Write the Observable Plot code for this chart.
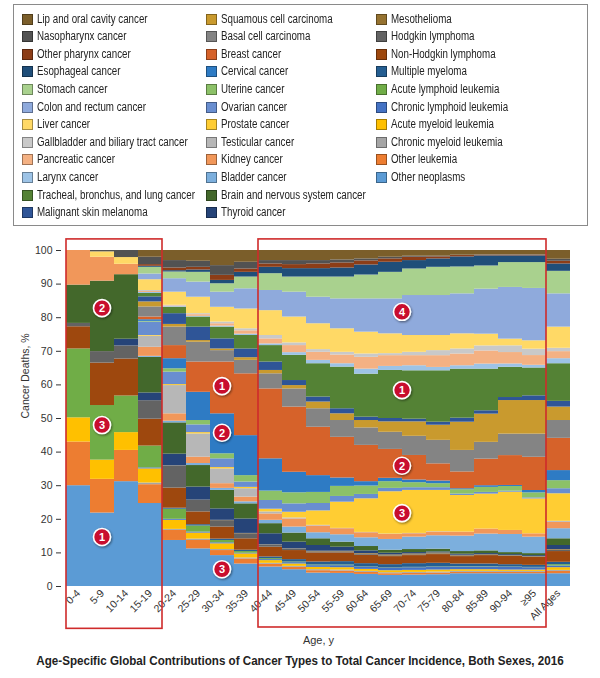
<!DOCTYPE html>
<html><head><meta charset="utf-8">
<script src="https://cdn.jsdelivr.net/npm/d3@7"></script>
<script src="https://cdn.jsdelivr.net/npm/@observablehq/plot@0.6"></script>
<style>
body{margin:0;background:#fff;font-family:"Liberation Sans",Arial,sans-serif;}
#wrap{position:relative;width:600px;height:678px;overflow:hidden}
#legend{position:absolute;left:13px;top:4px;width:575px;height:222px;border:1px solid #8a8a8a;box-sizing:border-box;}
.item{position:absolute;font-size:12.5px;color:#222;line-height:13px;display:flex;align-items:center;white-space:nowrap}
.sw{width:11px;height:11px;box-sizing:border-box;border:1px solid rgba(0,0,0,.35);margin-right:4px;flex:none}
.lt{display:inline-block;transform:scaleX(0.78);transform-origin:left center}
#chart{position:absolute;left:0;top:230px}
#title{position:absolute;top:653px;left:300px;white-space:nowrap;font-size:13.5px;font-weight:bold;color:#222;transform:translateX(-50%) scaleX(0.86);transform-origin:center}
</style></head>
<body><div id="wrap"><div id="legend"></div><div id="chart"></div>
<div id="title">Age-Specific Global Contributions of Cancer Types to Total Cancer Incidence, Both Sexes, 2016</div></div>
<script>
const ages = ["0-4","5-9","10-14","15-19","20-24","25-29","30-34","35-39","40-44","45-49","50-54","55-59","60-64","65-69","70-74","75-79","80-84","85-89","90-94","≥95","All Ages"];

// legend order (top of stack first)
const seriesNames = ["Lip and oral cavity cancer","Nasopharynx cancer","Other pharynx cancer","Esophageal cancer","Stomach cancer","Colon and rectum cancer","Liver cancer","Gallbladder and biliary tract cancer","Pancreatic cancer","Larynx cancer","Tracheal, bronchus, and lung cancer","Malignant skin melanoma","Squamous cell carcinoma","Basal cell carcinoma","Breast cancer","Cervical cancer","Uterine cancer","Ovarian cancer","Prostate cancer","Testicular cancer","Kidney cancer","Bladder cancer","Brain and nervous system cancer","Thyroid cancer","Mesothelioma","Hodgkin lymphoma","Non-Hodgkin lymphoma","Multiple myeloma","Acute lymphoid leukemia","Chronic lymphoid leukemia","Acute myeloid leukemia","Chronic myeloid leukemia","Other leukemia","Other neoplasms"];
const seriesColors = ["#7b5e2a","#525252","#8c3d17","#1f4e79","#a9d18e","#8faadc","#ffd966","#c9c9c9","#f4b183","#9dc3e6","#548235","#2f5597","#c99a2e","#848484","#d6622a","#2e7bc4","#8cc168","#698ed0","#ffcd33","#b7b7b7","#f1975a","#7cafdd","#43682b","#264478","#957230","#636363","#9e480e","#255e91","#70ad47","#4472c4","#ffc000","#a5a5a5","#ed7d31","#5b9bd5"];

// shares (%) per age group
const lipOral      = [0,0,0,2.0,3.0,3.2,4.5,3.5,3.0,3.0,3.0,2.8,2.5,2.0,1.7,1.7,1.4,1.3,1.3,1.3,2.6];
const nasopharynx  = [0,0.4,2.1,2.2,2.2,1.8,2.9,2.0,1.0,1.2,1.0,0.9,0.6,0.5,0.3,0.2,0.1,0.1,0.1,0.1,0.6];
const otherPharynx = [0,0,0,0.5,0.8,0.8,1.5,1.0,1.0,1.2,1.4,1.5,1.2,1.0,1.0,0.6,0.4,0.2,0.2,0.2,0.8];
const esophageal   = [0,0,0,0.3,0.4,0.7,1.0,1.4,1.9,2.5,2.5,2.7,3.0,3.0,2.5,2.5,3.0,3.0,2.0,2.0,2.2];
const stomach      = [0,0,0,2.0,2.0,2.9,2.5,3.5,5.0,4.5,6.0,6.5,7.1,7.9,7.9,8.4,8.0,6.9,7.4,7.7,6.7];
const colonRectum  = [0,0,0,1.7,4.0,4.5,4.5,6.0,6.0,7.4,7.9,8.9,9.9,10.4,11.9,11.9,11.9,13.4,15.4,15.6,9.9];
const liver        = [0,1.6,2.0,3.2,3.9,4.9,4.4,5.9,7.4,7.7,7.7,7.0,6.5,5.9,5.0,4.5,4.5,3.5,2.0,2.5,6.3];
const gallbladder  = [0,0,0,0.3,0.2,0.3,0.5,0.6,1.0,0.8,0.8,0.8,1.0,0.6,1.0,1.5,1.5,1.5,2.0,1.9,1.0];
const pancreatic   = [0,0,0,0.3,0.2,0.5,0.7,1.0,1.5,2.1,2.4,2.6,3.5,3.2,3.0,3.5,3.5,3.9,3.4,2.9,2.1];
const larynx       = [0,0,0,0.3,0.2,0.2,0.3,0.4,0.5,0.8,1.0,1.0,1.5,1.2,1.5,1.0,1.0,1.5,1.0,0.8,1.5];
const lung         = [0,0,0,1.0,1.9,3.0,3.5,4.0,4.9,7.5,9.9,12.4,12.8,14.3,14.4,15.3,14.6,12.4,9.0,8.3,11.2];
const melanoma     = [0,0,0,1.5,3.2,4.0,3.0,2.6,2.5,1.5,1.5,1.5,1.0,1.0,0.8,0.9,1.2,1.0,0.9,1.4,1.7];
const squamous     = [0,0,0,1.5,0.8,0.5,0.5,0.8,1.0,1.0,2.0,2.0,2.2,3.1,4.3,4.5,8.4,8.4,10.0,10.0,4.0];
const basal        = [0,0,0,3.0,5.5,5.9,3.4,4.0,4.5,5.4,5.5,5.0,5.2,5.1,5.7,7.0,6.4,5.0,6.4,6.9,5.3];
const breast       = [0,0,0,0.8,3.9,9.0,15.4,18.4,20.8,19.4,14.4,12.1,10.8,8.6,7.3,5.1,5.0,7.9,8.9,9.9,9.6];
const cervical     = [0,0,0,0.5,3.0,8.4,11.9,11.9,9.6,6.1,5.0,2.5,1.3,1.0,0.8,0.8,0.3,0.5,0.3,0.7,3.0];
const uterine      = [0,0,0,0.2,1.0,1.3,1.5,1.9,2.8,3.3,3.3,3.0,2.5,2.0,1.5,1.2,1.3,1.5,1.4,1.5,2.4];
const ovarian      = [0,0,0,4.0,3.7,2.3,2.6,1.6,2.6,2.5,2.2,1.7,1.3,1.0,0.8,0.8,0.4,0.5,0.3,0.3,1.5];
const prostate     = [0,0,0,0.2,0.3,0.4,0.4,0.4,0.8,1.7,4.3,7.8,10.0,12.6,12.8,12.3,10.9,10.4,11.4,10.4,8.2];
const testicular   = [0,0,0,3.3,8.4,6.9,4.4,2.5,0.6,0.3,0.2,0.1,0.1,0.1,0.1,0.1,0,0,0,0,0.3];
const kidney       = [10.3,7.1,3.1,2.7,2.2,1.9,1.4,1.4,1.9,2.4,2.0,1.8,1.5,1.5,1.0,1.1,1.2,1.5,1.2,1.0,1.9];
const bladder      = [0,0,0,0.3,0.5,0.6,0.6,0.6,1.0,1.8,1.8,2.2,2.6,3.2,3.7,4.0,4.6,5.0,5.4,4.9,3.0];
const brain        = [11.4,20.9,19.2,10.6,9.3,6.4,5.5,4.5,3.0,2.7,2.0,1.5,1.3,0.9,0.9,0.8,0.8,0.8,0.6,0.6,2.0];
const thyroid      = [0,0,2.0,2.3,3.5,3.9,3.4,4.3,3.3,2.0,1.7,1.2,0.8,0.5,0.4,0.3,0.3,0.3,0.3,0.3,1.2];
const mesothelioma = [0,0,0,0,0.1,0.1,0.1,0.1,0.1,0.1,0.2,0.2,0.2,0.3,0.3,0.3,0.2,0.1,0.1,0.1,0.2];
const hodgkin      = [1.0,3.4,3.9,5.5,6.5,3.4,1.9,1.5,0.6,0.4,0.3,0.3,0.3,0.2,0.2,0.2,0.2,0.2,0.1,0.1,0.4];
const nonHodgkin   = [6.6,12.6,11.0,8.0,6.0,3.8,3.6,3.4,2.9,2.7,2.7,2.6,2.5,2.4,2.4,2.6,2.2,2.5,2.5,2.4,3.2];
const myeloma      = [0,0,0,0,0.3,0.4,0.4,0.4,0.5,0.7,0.9,1.0,1.0,1.0,1.1,1.1,0.8,0.8,0.7,0.6,0.7];
const acuteLymph   = [20.5,16.2,10.9,6.5,3.0,1.8,0.7,0.5,0.3,0.2,0.2,0.2,0.1,0.1,0.1,0.1,0.1,0.1,0.1,0.1,0.4];
const chronicLymph = [0,0,0,0.3,0.3,0.3,0.3,0.2,0.3,0.4,0.5,0.6,0.6,0.7,0.8,0.8,0.8,0.8,0.8,0.7,0.5];
const acuteMyeloid = [7.2,5.7,5.3,4.2,2.7,1.8,1.7,1.2,0.8,0.7,0.7,0.7,0.6,0.6,0.6,0.6,0.5,0.5,0.4,0.4,0.8];
const chronicMyel  = [0,0,0,0.5,0.3,0.4,0.3,0.3,0.3,0.3,0.3,0.3,0.3,0.3,0.3,0.3,0.3,0.3,0.3,0.3,0.3];
const otherLeuk    = [13,10,9.3,5.6,3.0,2.5,1.5,1.5,0.8,0.7,0.7,0.7,0.6,0.5,0.5,0.5,0.4,0.4,0.4,0.4,0.7];
const otherNeo     = [30,21.8,31.2,24.7,13.7,11.2,9.2,6.7,5.8,5.0,4.0,3.9,3.6,3.3,3.4,3.5,3.8,3.8,3.8,3.8,3.8];

const seriesValues = [lipOral,nasopharynx,otherPharynx,esophageal,stomach,colonRectum,liver,gallbladder,pancreatic,larynx,lung,melanoma,squamous,basal,breast,cervical,uterine,ovarian,prostate,testicular,kidney,bladder,brain,thyroid,mesothelioma,hodgkin,nonHodgkin,myeloma,acuteLymph,chronicLymph,acuteMyeloid,chronicMyel,otherLeuk,otherNeo];

const yTicks = [0,10,20,30,40,50,60,70,80,90,100];

// annotations
const boxes = [{from:"0-4", to:"15-19", top:103.3, bottom:-12.6},{from:"40-44", to:"≥95", top:103.3, bottom:-12.2}];
const markers = [
  {n:"2", age:"5-9", at:0.5, y:82.7},{n:"3", age:"5-9", at:0.5, y:47.9},{n:"1", age:"5-9", at:0.5, y:14.6},
  {n:"1", age:"30-34", at:0.5, y:59.5},{n:"2", age:"30-34", at:0.5, y:45.6},{n:"3", age:"30-34", at:0.5, y:5.0},
  {n:"4", age:"65-69", at:1, y:81.6},{n:"1", age:"65-69", at:1, y:58.3},{n:"2", age:"65-69", at:1, y:35.8},{n:"3", age:"65-69", at:1, y:21.7}
];

// legend
const leg = document.getElementById("legend");
const colX = [8, 192, 362];
seriesNames.forEach((name, i) => {
  const col = Math.floor(i / 12), row = i % 12;
  const d = document.createElement("div");
  d.className = "item";
  d.style.left = colX[col] + "px";
  d.style.top = (7.5 + row * 17.6) + "px";
  d.innerHTML = `<span class="sw" style="background:${seriesColors[i]}"></span><span class="lt">${name}</span>`;
  leg.appendChild(d);
});

// long-format data, bottom of stack first
const rows = [];
for (let s = seriesNames.length - 1; s >= 0; s--) {
  ages.forEach((a, j) => rows.push({age: a, series: seriesNames[s], value: seriesValues[s][j]}));
}

const chart = Plot.plot({
  width: 600, height: 422,
  marginTop: 20, marginBottom: 66, marginLeft: 61, marginRight: 25,
  style: {fontFamily: '"Liberation Sans",Arial,sans-serif', fontSize: "10.5px", color: "#333", background: "transparent"},
  x: {domain: ages, padding: 0, label: null, tickRotate: -45, tickSize: 0, tickPadding: 5},
  y: {domain: [0, 1], ticks: yTicks.map(v => v / 100), tickFormat: v => String(Math.round(v * 100)), label: null, tickSize: 5},
  color: {domain: seriesNames, range: seriesColors},
  marks: [
    Plot.barY(rows, Plot.stackY({offset: "normalize", order: null}, {x: "age", y: "value", fill: "series", inset: 0})),
    Plot.text(["Cancer Deaths, %"], {text: d => d, frameAnchor: "left", rotate: -90, dx: -36, fontSize: 10.5, fill: "#333"}),
    Plot.text(["Age, y"], {text: d => d, frameAnchor: "bottom", dy: 57, fontSize: 11, fill: "#333"})
  ]
});
document.getElementById("chart").appendChild(chart);

// annotations drawn with the plot's own scales
const xs = chart.scale("x"), ys = chart.scale("y");
const bw = xs.bandwidth;
const svg = d3.select(chart);
const defs = svg.append("defs");
const f = defs.append("filter").attr("id","sh").attr("x","-50%").attr("y","-50%").attr("width","200%").attr("height","200%");
f.append("feDropShadow").attr("dx",1).attr("dy",1.2).attr("stdDeviation",1).attr("flood-color","#000").attr("flood-opacity",0.45);
const g = svg.append("g");
boxes.forEach(b => {
  const x0 = xs.apply(b.from), x1 = xs.apply(b.to) + bw;
  const y0 = ys.apply(b.top / 100), y1 = ys.apply(b.bottom / 100);
  g.append("rect").attr("x", x0).attr("y", y0).attr("width", x1 - x0).attr("height", y1 - y0)
    .attr("fill", "none").attr("stroke", "#cf2b2b").attr("stroke-width", 1.6);
});
markers.forEach(m => {
  const cx = xs.apply(m.age) + bw * m.at, cy = ys.apply(m.y / 100);
  g.append("circle").attr("cx", cx).attr("cy", cy).attr("r", 8.5).attr("fill", "#c8102e")
    .attr("stroke", "#fff").attr("stroke-width", 1.6).attr("filter", "url(#sh)");
  g.append("text").attr("x", cx).attr("y", cy).attr("dy", "0.36em").attr("text-anchor", "middle")
    .attr("fill", "#fff").attr("font-size", 11).attr("font-weight", "bold").text(m.n);
});
</script></body></html>
